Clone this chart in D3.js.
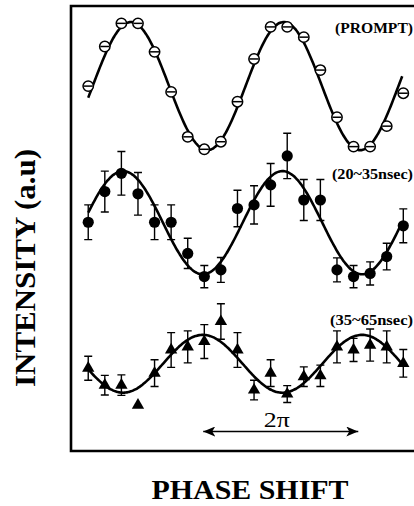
<!DOCTYPE html>
<html>
<head>
<meta charset="utf-8">
<script src="https://cdnjs.cloudflare.com/ajax/libs/d3/7.8.5/d3.min.js"></script>
<style>
html, body { margin: 0; padding: 0; background: #fff; overflow: hidden; }
</style>
</head>
<body>
<div id="chart"></div>
<script>
//////////////////////////////////////////////
// Data //////////////////////////////////////
//////////////////////////////////////////////
// phase of each measurement (degrees)
var phase = [0, 38.5, 77, 115.5, 154, 192.5, 231, 269.5, 308, 346.5,
             385, 423.5, 462, 500.5, 539, 577.5, 616, 654.5, 693, 731.5];

// intensities (a.u.)
var promptVals = [82.0, 90.9, 96.1, 96.1, 89.7, 80.7, 70.6, 67.8, 69.5, 78.5,
                  88.1, 95.3, 95.3, 93.0, 85.6, 75.0, 68.4, 68.4, 73.0, 80.4];

var midVals = [51.4, 58.3, 62.4, 57.8, 51.4, 51.4, 44.4, 39.2, 40.7, 54.5,
               55.3, 59.8, 66.3, 56.4, 56.4, 40.7, 39.2, 39.9, 43.7, 50.6];
var midErr  = [3.9, 4.6, 4.9, 4.8, 3.9, 3.9, 3.4, 2.5, 2.8, 4.1,
               4.3, 4.8, 5.1, 4.6, 4.6, 2.7, 2.5, 2.6, 3.0, 3.8];

var lateVals = [18.6, 14.8, 14.8, 10.3, 17.5, 22.7, 23.4, 24.6, 29.1, 22.7,
                13.7, 17.5, 12.8, 16.7, 16.9, 23.4, 22.7, 23.8, 23.4, 19.7];
var lateErr  = [2.7, 2.2, 2.3, 0, 3.0, 3.9, 3.6, 3.8, 4.0, 3.9,
                2.2, 3.0, 1.9, 2.2, 2.4, 3.6, 2.6, 3.6, 3.6, 3.1];

var seriesLabels = ["(PROMPT)", "(20~35nsec)", "(35~65nsec)"];

// fitted sine curves: offset, amplitude, phase of peak, period (deg)
var fitOffset = [82.0, 51.3, 19.6];
var fitAmp    = [14.4, 11.6, 6.5];
var fitPeak   = [99, 81, 266];
var fitPeriod = [355, 370, 370];

// the "2 pi" marker
var arrowSpan = [267, 627];

//////////////////////////////////////////////
// Chart Config //////////////////////////////
//////////////////////////////////////////////
var W = 414, H = 506;
var frame = {left: 71, top: 6, right: 416, bottom: 451};

var xScale = d3.scaleLinear().domain([-40, 761]).range([frame.left, frame.right]);
var yScale = d3.scaleLinear().domain([0, 100]).range([frame.bottom, frame.top]);

var svg = d3.select("#chart")
    .append("svg")
    .attr("width", W)
    .attr("height", H)
    .style("font-family", "'Liberation Serif', 'DejaVu Serif', serif");

// frame (right side runs off the page)
svg.append("path")
    .attr("d", "M" + frame.right + "," + frame.top + "H" + frame.left +
               "V" + frame.bottom + "H" + frame.right)
    .style("fill", "none")
    .style("stroke", "#000")
    .style("stroke-width", 2.6);

//////////////////////////////////////////////
// Fit curves ////////////////////////////////
//////////////////////////////////////////////
var line = d3.line()
    .x(function(d) { return xScale(d[0]); })
    .y(function(d) { return yScale(d[1]); })
    .curve(d3.curveBasis);

var samples = d3.range(phase[0], phase[phase.length - 1] + 0.1, 3);

fitOffset.forEach(function(off, k) {
  var pts = samples.map(function(p) {
    return [p, off + fitAmp[k] * Math.cos((p - fitPeak[k]) / fitPeriod[k] * 2 * Math.PI)];
  });
  svg.append("path").datum(pts)
      .attr("d", line)
      .style("fill", "none")
      .style("stroke", "#000")
      .style("stroke-width", 2.6);
});

//////////////////////////////////////////////
// Error bars ////////////////////////////////
//////////////////////////////////////////////
function errorBars(vals, errs) {
  var g = svg.append("g")
      .style("stroke", "#000")
      .style("stroke-width", 1.4)
      .style("fill", "none");
  vals.forEach(function(v, i) {
    if (!errs[i]) return;
    var x = xScale(phase[i]), y0 = yScale(v - errs[i]), y1 = yScale(v + errs[i]);
    g.append("path")
        .attr("d", "M" + x + "," + y0 + "V" + y1 +
                   "M" + (x - 4) + "," + y0 + "H" + (x + 4) +
                   "M" + (x - 4) + "," + y1 + "H" + (x + 4));
  });
}
errorBars(midVals, midErr);
errorBars(lateVals, lateErr);

//////////////////////////////////////////////
// Markers ///////////////////////////////////
//////////////////////////////////////////////
// prompt: open circle with a bar
var pg = svg.append("g").selectAll("g").data(promptVals).join("g")
    .attr("transform", function(d, i) { return "translate(" + xScale(phase[i]) + "," + yScale(d) + ")"; });
pg.append("circle").attr("r", 5.2)
    .style("fill", "#fff").style("stroke", "#000").style("stroke-width", 1.5);
pg.append("line").attr("x1", -4.5).attr("x2", 4.5)
    .style("stroke", "#000").style("stroke-width", 1.5);

// 20~35 nsec: filled circles
svg.append("g").selectAll("circle").data(midVals).join("circle")
    .attr("cx", function(d, i) { return xScale(phase[i]); })
    .attr("cy", function(d) { return yScale(d); })
    .attr("r", 5.6)
    .style("fill", "#000");

// 35~65 nsec: filled triangles
svg.append("g").selectAll("path").data(lateVals).join("path")
    .attr("d", d3.symbol(d3.symbolTriangle).size(66))
    .attr("transform", function(d, i) { return "translate(" + xScale(phase[i]) + "," + yScale(d) + ")"; })
    .style("fill", "#000");

//////////////////////////////////////////////
// Labels ////////////////////////////////////
//////////////////////////////////////////////
var labelY = [33, 179, 324.5];
var labelW = [78, 81, 83];
seriesLabels.forEach(function(t, k) {
  svg.append("text")
      .attr("x", 413).attr("y", labelY[k])
      .attr("text-anchor", "end")
      .attr("textLength", labelW[k])
      .attr("lengthAdjust", "spacingAndGlyphs")
      .style("font-size", "15px")
      .style("font-weight", "bold")
      .text(t);
});

// 2 pi arrow
svg.append("defs").append("marker")
    .attr("id", "head")
    .attr("viewBox", "0 0 12 10")
    .attr("refX", 12).attr("refY", 5)
    .attr("markerWidth", 12).attr("markerHeight", 10)
    .attr("markerUnits", "userSpaceOnUse")
    .attr("orient", "auto-start-reverse")
  .append("path")
    .attr("d", "M0,0L12,5L0,10L3,5Z")
    .style("fill", "#000");

svg.append("line")
    .attr("x1", xScale(arrowSpan[0])).attr("x2", xScale(arrowSpan[1]))
    .attr("y1", 431.5).attr("y2", 431.5)
    .attr("marker-start", "url(#head)")
    .attr("marker-end", "url(#head)")
    .style("stroke", "#000")
    .style("stroke-width", 1.6);

svg.append("text")
    .attr("x", (xScale(arrowSpan[0]) + xScale(arrowSpan[1])) / 2 - 4)
    .attr("y", 427)
    .attr("text-anchor", "middle")
    .attr("textLength", 26)
    .attr("lengthAdjust", "spacingAndGlyphs")
    .style("font-size", "21px")
    .text("2\u03c0");

// axis titles
svg.append("text")
    .attr("x", 250).attr("y", 499)
    .attr("text-anchor", "middle")
    .attr("textLength", 197)
    .attr("lengthAdjust", "spacingAndGlyphs")
    .style("font-size", "27px")
    .style("font-weight", "bold")
    .text("PHASE SHIFT");

svg.append("text")
    .attr("transform", "translate(35,268) rotate(-90)")
    .attr("text-anchor", "middle")
    .attr("textLength", 238)
    .attr("lengthAdjust", "spacingAndGlyphs")
    .style("font-size", "29px")
    .style("font-weight", "bold")
    .text("INTENSITY (a.u)");
</script>
</body>
</html>
